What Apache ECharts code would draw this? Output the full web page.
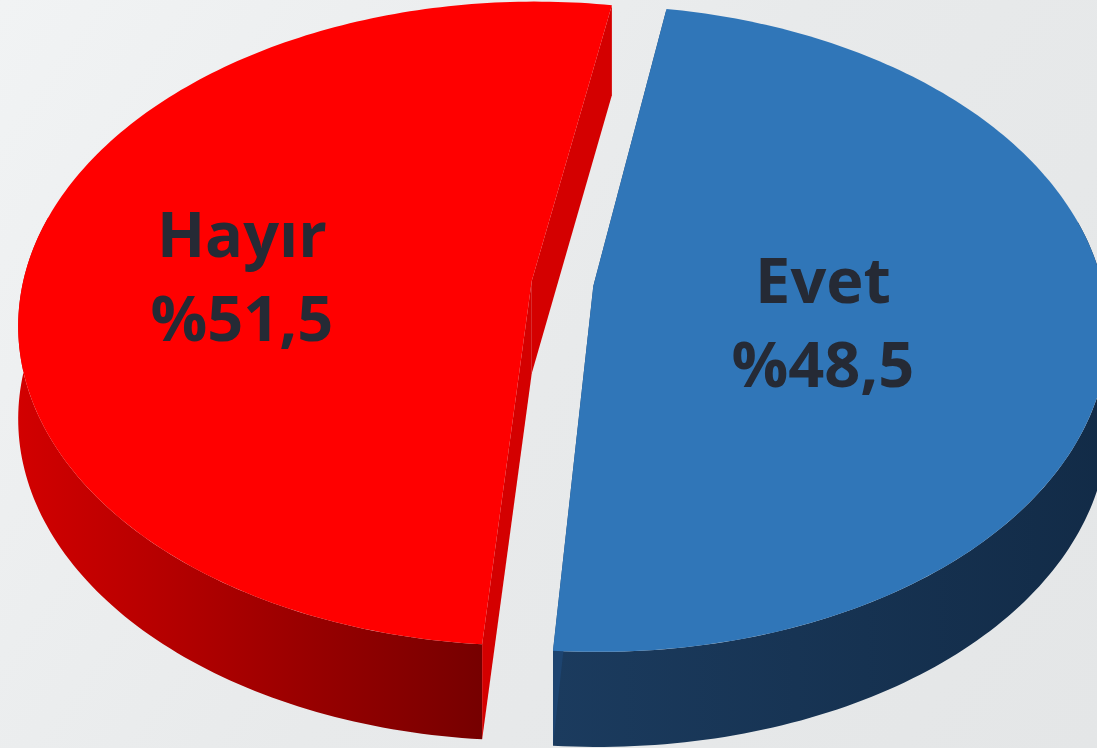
<!DOCTYPE html>
<html>
<head>
<meta charset="utf-8">
<title>Evet / Hayır</title>
<script src="https://cdn.jsdelivr.net/npm/echarts@6/dist/echarts.min.js"></script>
<style>
  html, body { margin: 0; padding: 0; background: #e9ebec; }
  #chart { width: 1097px; height: 748px; }
</style>
</head>
<body>
<div id="chart"></div>
<script>
// Data
const categories = ['Evet', 'Hayır'];
const values = [48.5, 51.5];

// Look of the fake 3D pie
const topColors = ['#3076b8', '#ff0000'];
const cutColors = ['#1d4470', '#d40000'];
const wallStops = [['#1b3b5e', '#122b47'], ['#d20000', '#760000']];
const labelAnchors = [[0.442, 0.128], [-0.57, 0.0]]; // plane coords, per slice

// Projection of the pie plane (x right, z towards viewer)
const cx = 562.5, cy = 283.5, rx = 509, rz = 317, persp = 0.132;
const startAngle = -80.2; // degrees, clockwise on screen from 3 o'clock
const explode = 0.061;

function proj(x, z) {
  const w = 1 - persp * z;
  return [cx + rx * x / w, cy + rz * z / w];
}
function depth(z) {
  return 92.5 + 2.5 * z;
}

const total = values.reduce((s, v) => s + v, 0);

function sliceAngles(i) {
  let before = 0;
  for (let k = 0; k < i; k++) before += values[k];
  const a0 = startAngle + before / total * 360;
  const a1 = a0 + values[i] / total * 360;
  return [a0, a1];
}

function arc(ox, oz, a0, a1, down) {
  const pts = [];
  const n = Math.max(2, Math.ceil(Math.abs(a1 - a0)));
  for (let k = 0; k <= n; k++) {
    const t = (a0 + (a1 - a0) * k / n) * Math.PI / 180;
    const x = ox + Math.cos(t), z = oz + Math.sin(t);
    const p = proj(x, z);
    if (down) p[1] += depth(z);
    pts.push(p);
  }
  return pts;
}

function renderItem(params, api) {
  const i = params.dataIndex;
  const [a0, a1] = sliceAngles(i);
  const mid = (a0 + a1) / 2 * Math.PI / 180;
  const ox = explode * Math.cos(mid), oz = explode * Math.sin(mid);
  const children = [];

  // outer side wall, front part only
  const w0 = Math.max(a0, -12), w1 = Math.min(a1, 192);
  if (w1 > w0) {
    const top = arc(ox, oz, w0, w1, false);
    const bot = arc(ox, oz, w0, w1, true).reverse();
    children.push({
      type: 'polygon',
      shape: { points: top.concat(bot) },
      style: {
        fill: {
          type: 'linear', x: 0, y: 0, x2: 1, y2: 0,
          colorStops: [
            { offset: 0, color: wallStops[i][0] },
            { offset: 1, color: wallStops[i][1] }
          ]
        }
      }
    });
  }

  // cut walls along both radii
  const c = proj(ox, oz);
  const cb = [c[0], c[1] + depth(oz)];
  [a0, a1].forEach(function (ang) {
    const t = ang * Math.PI / 180;
    const z = oz + Math.sin(t);
    const r = proj(ox + Math.cos(t), z);
    const rb = [r[0], r[1] + depth(z)];
    children.push({
      type: 'polygon',
      shape: { points: [c, r, rb, cb] },
      style: { fill: cutColors[i] }
    });
  });

  // top face
  children.push({
    type: 'polygon',
    shape: { points: [c].concat(arc(ox, oz, a0, a1, false)) },
    style: { fill: topColors[i] }
  });

  // label
  const lp = proj(ox + labelAnchors[i][0], oz + labelAnchors[i][1]);
  const v = api.value(0);
  children.push({
    type: 'text',
    x: lp[0],
    y: lp[1],
    style: {
      text: categories[i] + '\n%' + String(v).replace('.', ','),
      font: 'bold 63px "Open Sans"',
      lineHeight: 84,
      align: 'center',
      verticalAlign: 'middle',
      fill: '#252a35'
    }
  });

  return { type: 'group', children: children };
}

const chart = echarts.init(document.getElementById('chart'));
chart.setOption({
  animation: false,
  backgroundColor: {
    type: 'linear', x: 0, y: 0, x2: 1, y2: 1,
    colorStops: [
      { offset: 0, color: '#f1f3f4' },
      { offset: 0.5, color: '#e8eaeb' },
      { offset: 1, color: '#e4e6e7' }
    ]
  },
  series: [{
    type: 'custom',
    coordinateSystem: 'none',
    renderItem: renderItem,
    data: values.map((v, i) => ({ name: categories[i], value: v }))
  }]
});
</script>
</body>
</html>
